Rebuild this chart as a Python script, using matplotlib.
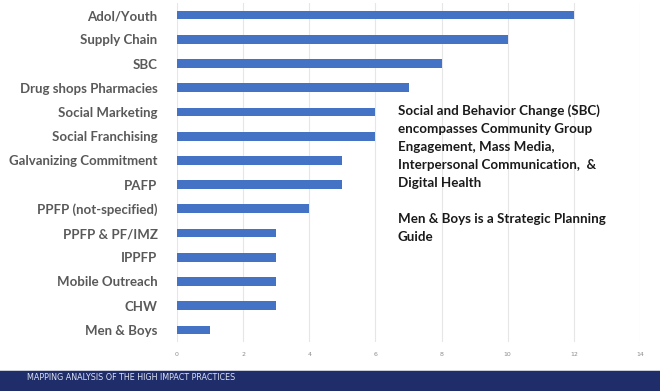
import matplotlib.pyplot as plt
from matplotlib.patches import Rectangle

categories = ["Adol/Youth", "Supply Chain", "SBC", "Drug shops Pharmacies",
              "Social Marketing", "Social Franchising", "Galvanizing Commitment",
              "PAFP", "PPFP (not-specified)", "PPFP & PF/IMZ", "IPPFP",
              "Mobile Outreach", "CHW", "Men & Boys"]
values = [12, 10, 8, 7, 6, 6, 5, 5, 4, 3, 3, 3, 3, 1]
x_ticks = [0, 2, 4, 6, 8, 10, 12, 14]

note = ("Social and Behavior Change (SBC)\n"
        "encompasses Community Group\n"
        "Engagement, Mass Media,\n"
        "Interpersonal Communication,  &\n"
        "Digital Health\n"
        "\n"
        "Men & Boys is a Strategic Planning\n"
        "Guide")
footer = "MAPPING ANALYSIS OF THE HIGH IMPACT PRACTICES"

fig = plt.figure(figsize=(6.6, 3.91), dpi=100)
ax = fig.add_axes([177 / 660, 1 - 342 / 391, (640 - 177) / 660, (342 - 3) / 391])

pos = list(range(len(categories)))
ax.barh(pos, values, height=0.36, color="#4472C4")
ax.set_ylim(len(categories) - 0.5, -0.5)
ax.set_xlim(0, 14)
ax.set_xticks(x_ticks)
ax.set_xticklabels([str(t) for t in x_ticks], fontsize=4.5, color="#8c8c8c")
ax.set_yticks(pos)
ax.set_yticklabels(categories, fontsize=9.5, fontweight="bold", color="#595959",
                   family=["Lato", "DejaVu Sans"])
ax.tick_params(axis="both", length=0)
ax.tick_params(axis="y", pad=14)
ax.tick_params(axis="x", pad=7)
ax.grid(axis="x", color="#e6e6e6", linewidth=0.8)
ax.set_axisbelow(True)
for s in ax.spines.values():
    s.set_visible(False)

fig.text(398 / 660, 1 - 104 / 391, note, fontsize=9.6, fontweight="bold",
         color="#1a1a1a", va="top", ha="left", linespacing=1.6,
         family=["Lato", "DejaVu Sans"])

# footer band
fig.add_artist(Rectangle((0, 0), 1, 20 / 391, transform=fig.transFigure,
                         facecolor="#1f2d6b", edgecolor="none"))
fig.add_artist(Rectangle((0, 20 / 391), 1, 1.5 / 391, transform=fig.transFigure,
                         facecolor="#c8ccd8", edgecolor="none"))
fig.text(27 / 660, 1 - 377 / 391, footer, fontsize=5.8, color="#dde2f0",
         va="center", ha="left")

fig.savefig("out.png", dpi=100)
